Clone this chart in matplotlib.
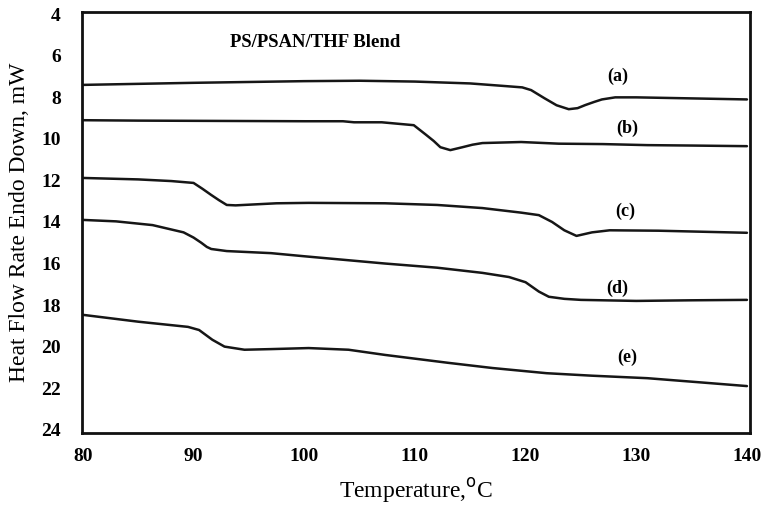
import matplotlib
matplotlib.use("Agg")
import matplotlib.pyplot as plt
import numpy as np

plt.rcParams['font.family'] = ['Liberation Serif', 'DejaVu Serif']

# Curve data (temperature in C, heat flow mW)
xa = [80, 85, 90, 95, 100, 105, 110, 115, 118, 119.7, 120.5, 121.7, 122.8, 123.9, 124.7, 125.4, 126.2, 126.9, 128.1, 130, 135, 140]
ya = [7.40, 7.35, 7.30, 7.26, 7.22, 7.20, 7.24, 7.33, 7.45, 7.52, 7.65, 8.04, 8.38, 8.57, 8.52, 8.37, 8.22, 8.10, 8.00, 8.00, 8.05, 8.10]

xb = [80, 85, 90, 95, 100, 103.5, 104.5, 107, 109.9, 111, 111.7, 112.3, 113.2, 114.3, 115.2, 116.1, 119.6, 123, 127, 131, 135, 140]
yb = [9.10, 9.12, 9.13, 9.14, 9.15, 9.15, 9.20, 9.20, 9.34, 9.80, 10.10, 10.40, 10.54, 10.40, 10.28, 10.20, 10.15, 10.23, 10.25, 10.30, 10.32, 10.35]

xc = [80, 85, 88, 90, 90.8, 91.6, 92.3, 93.0, 93.8, 97.5, 100.4, 107.3, 112, 116.1, 119.6, 121.2, 122.4, 123.5, 124.6, 126, 127.6, 132, 140]
yc = [11.88, 11.95, 12.03, 12.12, 12.40, 12.70, 12.95, 13.18, 13.20, 13.10, 13.08, 13.10, 13.18, 13.33, 13.55, 13.67, 14.00, 14.40, 14.67, 14.50, 14.40, 14.42, 14.52]

xd = [80, 83, 86.3, 89.1, 90.0, 90.7, 91.2, 91.6, 93, 97, 100, 107.3, 112, 116.1, 118.5, 120, 121.2, 122.1, 123.5, 125, 130, 135, 140]
yd = [13.90, 13.97, 14.15, 14.50, 14.75, 15.00, 15.20, 15.30, 15.40, 15.50, 15.65, 16.00, 16.20, 16.45, 16.65, 16.90, 17.35, 17.60, 17.70, 17.75, 17.80, 17.77, 17.75]

xe = [80, 85, 89.5, 90.5, 91.7, 92.8, 94.6, 97, 100.4, 104, 107.3, 113, 117, 121.9, 126, 131, 136, 140]
ye = [18.47, 18.80, 19.05, 19.20, 19.67, 20.00, 20.15, 20.12, 20.07, 20.15, 20.40, 20.78, 21.03, 21.28, 21.40, 21.52, 21.73, 21.90]

curves = [(xa, ya), (xb, yb), (xc, yc), (xd, yd), (xe, ye)]
labels = ['(a)', '(b)', '(c)', '(d)', '(e)']
label_x = [128.3, 129.2, 129.0, 128.3, 129.2]
label_y = [7.0, 9.5, 13.5, 17.2, 20.5]

fig = plt.figure(figsize=(7.64, 5.08), dpi=100)
ax = fig.add_axes([0.107, 0.148, 0.875, 0.828])

for x, y in curves:
    ax.plot(x, y, color='#161616', lw=1.8, solid_capstyle='round', solid_joinstyle='round')

for lab, lx, ly in zip(labels, label_x, label_y):
    ax.text(lx, ly, lab, fontsize=13, fontweight='bold', ha='center', va='center')

ax.text(93.3, 5.35, 'PS/PSAN/THF Blend', fontsize=13.5, fontweight='bold', ha='left', va='center')

ax.set_xlim(79.9, 140.3)
ax.set_ylim(24.15, 3.9)
ax.set_xticks([80, 90, 100, 110, 120, 130, 140])
ax.set_yticks([4, 6, 8, 10, 12, 14, 16, 18, 20, 22, 24])
ax.tick_params(length=0, labelsize=14)
ax.tick_params(axis='x', pad=11)
ax.tick_params(axis='y', pad=15)
for t in ax.get_xticklabels() + ax.get_yticklabels():
    t.set_fontweight('bold')
for s in ax.spines.values():
    s.set_linewidth(2)
    s.set_color('#111111')

ax.set_xlabel('Temperature,$^{\\mathrm{o}}$C', fontsize=17, labelpad=8)
ax.set_ylabel('Heat Flow Rate Endo Down, mW', fontsize=17, labelpad=8)

fig.savefig('out.png', dpi=100)
